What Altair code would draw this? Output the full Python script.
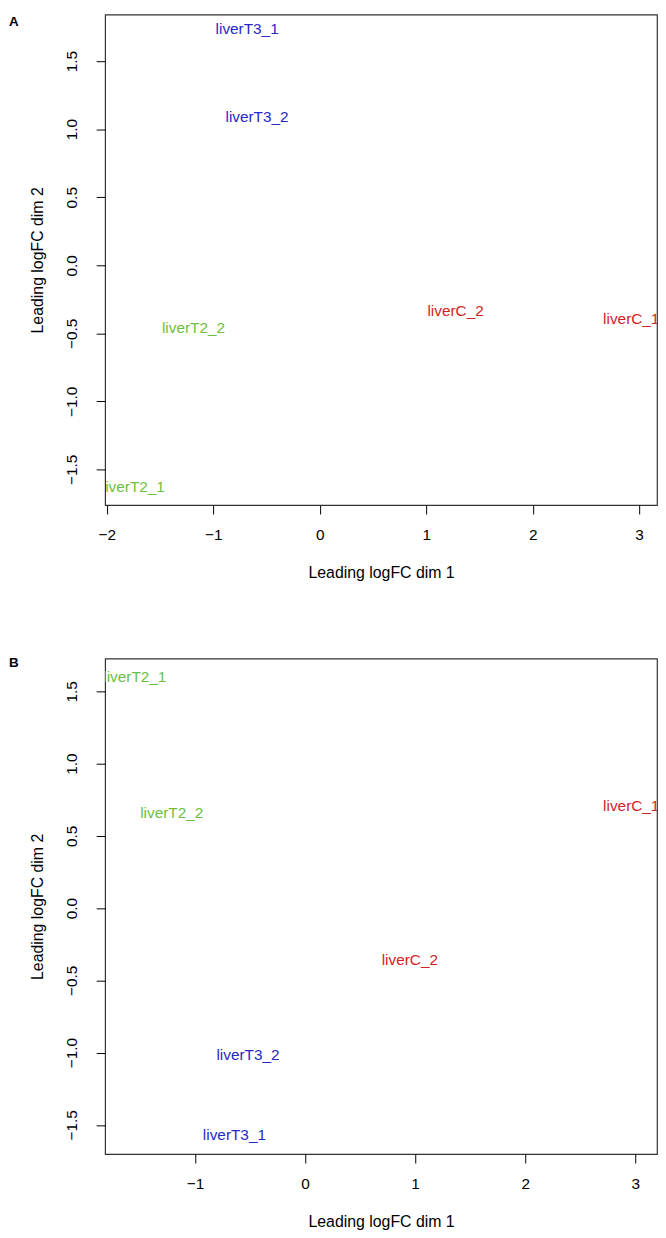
import altair as alt
import pandas as pd

FONT = "Liberation Sans"

samples = ["liverT3_1", "liverT3_2", "liverT2_1", "liverT2_2", "liverC_1", "liverC_2"]
groups = ["T3", "T3", "T2", "T2", "C", "C"]

# Panel A (Leading logFC dim 1 / dim 2)
a_dim1 = [-0.682, -0.589, -1.751, -1.186, 2.926, 1.276]
a_dim2 = [1.735, 1.087, -1.631, -0.459, -0.393, -0.333]

# Panel B
b_dim1 = [-0.642, -0.519, -1.547, -1.212, 2.964, 0.952]
b_dim2 = [-1.569, -1.020, 1.596, 0.659, 0.705, -0.358]

x_ticks_a = [-2, -1, 0, 1, 2, 3]
x_ticks_b = [-1, 0, 1, 2, 3]
y_ticks = [-1.5, -1.0, -0.5, 0.0, 0.5, 1.0, 1.5]

group_domain = ["C", "T2", "T3"]
group_colors = ["#d02424", "#6cbf42", "#2828c4"]


def panel(dim1, dim2, xdom, ydom, xticks, letter, letter_y, height):
    df = pd.DataFrame({"sample": samples, "group": groups, "dim1": dim1, "dim2": dim2})
    pts = alt.Chart(df).mark_text(fontSize=15.5, font=FONT, clip=True).encode(
        x=alt.X(
            "dim1:Q",
            scale=alt.Scale(domain=xdom, nice=False, zero=False),
            axis=alt.Axis(values=xticks, format="d", title="Leading logFC dim 1",
                          labelPadding=14, titlePadding=22),
        ),
        y=alt.Y(
            "dim2:Q",
            scale=alt.Scale(domain=ydom, nice=False, zero=False),
            axis=alt.Axis(values=y_ticks, format=".1f", title="Leading logFC dim 2",
                          labelAngle=270, labelAlign="center", labelBaseline="bottom",
                          labelPadding=16.5, titlePadding=19.5),
        ),
        text="sample:N",
        color=alt.Color("group:N", scale=alt.Scale(domain=group_domain, range=group_colors),
                        legend=None),
    )
    lab = alt.Chart(pd.DataFrame({"t": [letter]})).mark_text(
        align="left", baseline="top", fontWeight="bold", fontSize=13.5, font=FONT, color="black"
    ).encode(x=alt.value(-97), y=alt.value(letter_y), text="t:N")
    return alt.layer(pts, lab).properties(width=557, height=height)


chart_a = panel(a_dim1, a_dim2, [-2.016, 3.168], [-1.762, 1.842], x_ticks_a, "A", 0, 495)
chart_b = panel(b_dim1, b_dim2, [-1.817, 3.198], [-1.702, 1.726], x_ticks_b, "B", -3, 500)

chart = alt.vconcat(chart_a, chart_b, spacing=73, padding=0, background="white").configure_view(
    stroke="#333333", strokeWidth=1.2
).configure_axis(
    domain=False, grid=False, tickColor="black", tickSize=9, tickWidth=1,
    labelFont=FONT, labelFontSize=15.5, labelColor="black",
    titleFont=FONT, titleFontSize=16, titleFontWeight="normal", titleColor="black",
)

chart.save("out.html", embed_options={"renderer": "svg", "actions": False})
